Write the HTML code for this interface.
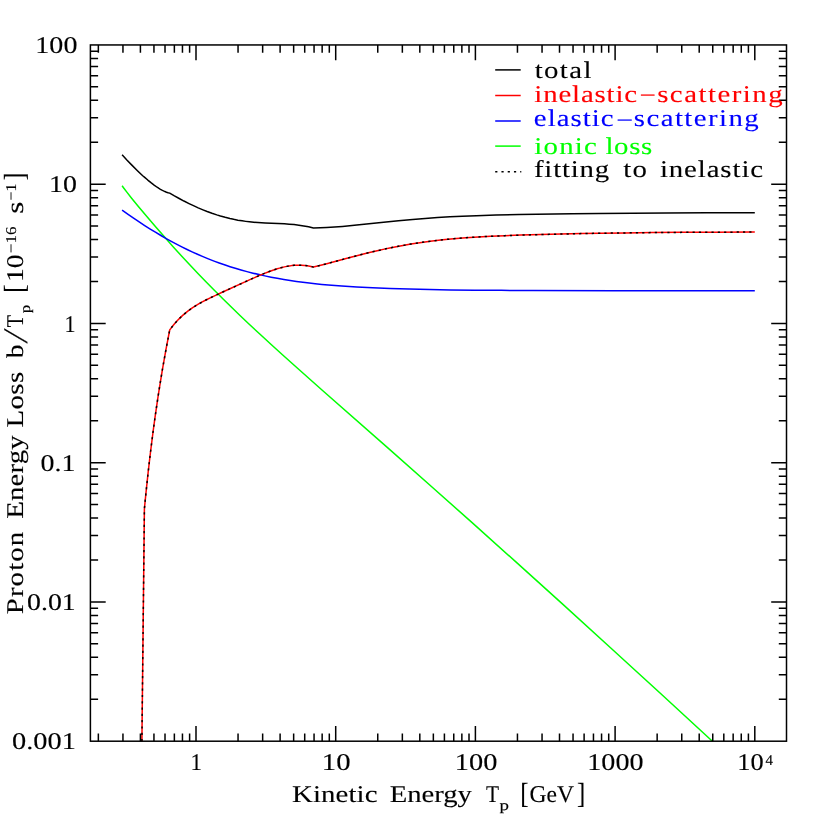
<!DOCTYPE html>
<html lang="en">
<head>
<meta charset="utf-8">
<title>Proton Energy Loss</title>
<style>
html,body{margin:0;padding:0;background:#fff;}
body{width:830px;height:830px;overflow:hidden;}
svg{display:block;}
text{font-family:"Liberation Serif",serif;white-space:pre;stroke-width:0.12px;text-rendering:geometricPrecision;}
</style>
</head>
<body>
<svg width="830" height="830" viewBox="0 0 830 830">
<rect x="0" y="0" width="830" height="830" fill="#fff"/>
<g fill="none" stroke-width="1.5" stroke-linejoin="round">
<path d="M122.10 185.77 L123.69 187.95 L126.86 192.14 L131.61 198.17 L137.96 205.95 L146.83 216.54 L155.81 227.04 L164.57 237.06 L173.32 246.89 L181.78 256.20 L189.02 264.02 L197.47 272.98 L205.93 281.75 L214.07 290.04 L222.83 298.79 L231.29 307.08 L239.74 315.22 L248.96 323.96 L260.06 334.32 L271.16 344.51 L283.84 356.01 L298.11 368.79 L322.26 390.20 L390.09 449.89 L429.73 484.94 L472.94 523.41 L517.26 563.17 L562.93 604.43 L610.50 647.70 L660.85 693.77 L712.38 741.20" stroke="#0f0"/>
<path d="M122.10 210.10 L128.44 214.60 L133.20 217.89 L139.54 222.16 L144.69 225.52 L150.24 229.04 L155.40 232.22 L160.93 235.51 L166.22 238.55 L171.26 241.34 L176.95 244.38 L181.78 246.86 L187.11 249.49 L192.64 252.10 L197.47 254.28 L202.97 256.65 L208.34 258.86 L214.07 261.09 L219.21 262.98 L225.17 265.06 L230.08 266.68 L236.12 268.55 L241.03 269.98 L246.98 271.62 L253.02 273.16 L259.06 274.59 L264.81 275.86 L271.14 277.16 L277.17 278.30 L283.84 279.46 L290.19 280.47 L296.49 281.39 L302.87 282.24 L309.21 283.02 L315.17 283.69 L321.90 284.38 L328.24 284.97 L341.76 286.06 L356.79 287.04 L372.64 287.85 L390.09 288.55 L409.11 289.12 L429.73 289.58 L450.34 289.90 L474.71 290.17 L501.31 290.37 L533.21 290.52 L613.67 290.68 L754.80 290.73" stroke="#00f"/>
<path d="M141.90 741.20 L144.40 508.80 L145.89 493.65 L148.14 472.43 L150.60 451.22 L153.30 430.01 L154.95 417.88 L156.25 408.79 L158.05 396.67 L159.47 387.58 L162.45 369.39 L164.57 357.27 L166.22 348.18 L169.70 330.00 L170.91 328.35 L173.32 325.25 L174.53 323.80 L176.95 321.06 L178.15 319.78 L180.57 317.36 L182.98 315.13 L185.40 313.06 L187.81 311.14 L190.23 309.36 L192.64 307.69 L196.27 305.37 L198.68 303.93 L202.30 301.90 L205.93 299.99 L210.76 297.60 L215.59 295.31 L221.63 292.53 L249.40 279.88 L257.85 276.13 L263.89 273.59 L268.72 271.70 L273.55 269.97 L277.17 268.80 L279.59 268.10 L282.00 267.45 L284.42 266.88 L286.83 266.38 L289.25 265.96 L291.66 265.62 L294.08 265.37 L296.49 265.22 L298.91 265.16 L301.32 265.21 L304.95 265.47 L307.36 265.79 L309.78 266.22 L313.40 267.09 L318.72 265.78 L325.81 263.95 L348.85 257.80 L357.72 255.48 L368.35 252.81 L377.22 250.72 L384.31 249.14 L389.63 248.01 L400.26 245.93 L410.90 244.06 L421.53 242.42 L432.17 241.00 L442.81 239.78 L453.44 238.74 L465.85 237.73 L478.26 236.92 L490.67 236.26 L504.85 235.65 L520.80 235.11 L540.30 234.57 L581.08 233.61 L600.58 233.24 L625.39 232.89 L651.98 232.59 L682.12 232.36 L715.80 232.19 L754.80 232.06" stroke="#f00"/>
<path d="M122.10 154.82 L126.86 159.98 L131.61 164.88 L137.96 171.16 L142.71 175.71 L144.40 177.07 L147.80 180.05 L150.97 182.67 L154.12 185.10 L157.14 187.24 L158.99 188.44 L160.44 189.31 L161.94 190.15 L163.50 190.93 L164.91 191.57 L166.50 192.20 L168.09 192.72 L169.70 193.13 L174.43 195.90 L179.19 198.53 L183.94 201.04 L189.02 203.58 L193.46 205.69 L198.21 207.82 L202.97 209.82 L207.13 211.47 L211.96 213.25 L216.79 214.87 L220.42 215.99 L225.17 217.33 L229.93 218.51 L233.70 219.35 L237.86 220.15 L242.15 220.86 L245.78 221.38 L249.40 221.82 L253.71 222.25 L257.85 222.58 L265.10 223.01 L284.42 223.86 L289.25 224.17 L294.08 224.60 L298.91 225.16 L303.74 225.90 L308.57 226.82 L313.40 227.95 L320.31 227.78 L326.66 227.50 L334.59 227.00 L342.51 226.38 L356.79 225.05 L386.08 222.00 L398.49 220.76 L412.67 219.46 L425.08 218.46 L437.49 217.59 L449.90 216.86 L462.31 216.25 L476.49 215.69 L495.99 215.11 L519.03 214.62 L572.21 213.80 L598.80 213.45 L632.48 213.14 L666.17 212.92 L706.94 212.75 L754.80 212.64" stroke="#000"/>
<path d="M141.90 741.20 L144.40 508.80 L145.89 493.65 L148.14 472.43 L150.60 451.22 L153.30 430.01 L154.95 417.88 L156.25 408.79 L158.05 396.67 L159.47 387.58 L162.45 369.39 L164.57 357.27 L166.22 348.18 L169.70 330.00 L170.91 328.35 L173.32 325.25 L174.53 323.80 L176.95 321.06 L178.15 319.78 L180.57 317.36 L182.98 315.13 L185.40 313.06 L187.81 311.14 L190.23 309.36 L192.64 307.69 L196.27 305.37 L198.68 303.93 L202.30 301.90 L205.93 299.99 L210.76 297.60 L215.59 295.31 L221.63 292.53 L249.40 279.88 L257.85 276.13 L263.89 273.59 L268.72 271.70 L273.55 269.97 L277.17 268.80 L279.59 268.10 L282.00 267.45 L284.42 266.88 L286.83 266.38 L289.25 265.96 L291.66 265.62 L294.08 265.37 L296.49 265.22 L298.91 265.16 L301.32 265.21 L304.95 265.47 L307.36 265.79 L309.78 266.22 L313.40 267.09 L318.72 265.78 L325.81 263.95 L348.85 257.80 L357.72 255.48 L368.35 252.81 L377.22 250.72 L384.31 249.14 L389.63 248.01 L400.26 245.93 L410.90 244.06 L421.53 242.42 L432.17 241.00 L442.81 239.78 L453.44 238.74 L465.85 237.73 L478.26 236.92 L490.67 236.26 L504.85 235.65 L520.80 235.11 L540.30 234.57 L581.08 233.61 L600.58 233.24 L625.39 232.89 L651.98 232.59 L682.12 232.36 L715.80 232.19 L754.80 232.06" stroke="#000" stroke-dasharray="2.2 4.1"/>
<path d="M495.2 69.9 H520.7" stroke="#000"/><path d="M495.2 95.5 H520.7" stroke="#f00"/><path d="M495.2 121.0 H520.7" stroke="#00f"/><path d="M495.2 146.1 H520.7" stroke="#0f0"/><path d="M495.2 171.7 H521.3" stroke="#000" stroke-dasharray="2.2 4.05"/>
</g>
<g fill="none" stroke="#000" stroke-width="1.5">
<path d="M98.35 741.2 v-7.7M98.35 44.95 v7.7M122.95 741.2 v-7.7M122.95 44.95 v7.7M140.41 741.2 v-7.7M140.41 44.95 v7.7M153.95 741.2 v-7.7M153.95 44.95 v7.7M165.01 741.2 v-7.7M165.01 44.95 v7.7M174.36 741.2 v-7.7M174.36 44.95 v7.7M182.46 741.2 v-7.7M182.46 44.95 v7.7M189.61 741.2 v-7.7M189.61 44.95 v7.7M196.00 741.2 v-15.3M196.00 44.95 v15.3M238.05 741.2 v-7.7M238.05 44.95 v7.7M262.65 741.2 v-7.7M262.65 44.95 v7.7M280.11 741.2 v-7.7M280.11 44.95 v7.7M293.65 741.2 v-7.7M293.65 44.95 v7.7M304.71 741.2 v-7.7M304.71 44.95 v7.7M314.06 741.2 v-7.7M314.06 44.95 v7.7M322.16 741.2 v-7.7M322.16 44.95 v7.7M329.31 741.2 v-7.7M329.31 44.95 v7.7M335.70 741.2 v-15.3M335.70 44.95 v15.3M377.75 741.2 v-7.7M377.75 44.95 v7.7M402.35 741.2 v-7.7M402.35 44.95 v7.7M419.81 741.2 v-7.7M419.81 44.95 v7.7M433.35 741.2 v-7.7M433.35 44.95 v7.7M444.41 741.2 v-7.7M444.41 44.95 v7.7M453.76 741.2 v-7.7M453.76 44.95 v7.7M461.86 741.2 v-7.7M461.86 44.95 v7.7M469.01 741.2 v-7.7M469.01 44.95 v7.7M475.40 741.2 v-15.3M475.40 44.95 v15.3M517.45 741.2 v-7.7M517.45 44.95 v7.7M542.05 741.2 v-7.7M542.05 44.95 v7.7M559.51 741.2 v-7.7M559.51 44.95 v7.7M573.05 741.2 v-7.7M573.05 44.95 v7.7M584.11 741.2 v-7.7M584.11 44.95 v7.7M593.46 741.2 v-7.7M593.46 44.95 v7.7M601.56 741.2 v-7.7M601.56 44.95 v7.7M608.71 741.2 v-7.7M608.71 44.95 v7.7M615.10 741.2 v-15.3M615.10 44.95 v15.3M657.15 741.2 v-7.7M657.15 44.95 v7.7M681.75 741.2 v-7.7M681.75 44.95 v7.7M699.21 741.2 v-7.7M699.21 44.95 v7.7M712.75 741.2 v-7.7M712.75 44.95 v7.7M723.81 741.2 v-7.7M723.81 44.95 v7.7M733.16 741.2 v-7.7M733.16 44.95 v7.7M741.26 741.2 v-7.7M741.26 44.95 v7.7M748.41 741.2 v-7.7M748.41 44.95 v7.7M754.80 741.2 v-15.3M754.80 44.95 v15.3M90.4 699.28 h7.7M786.5 699.28 h-7.7M90.4 674.76 h7.7M786.5 674.76 h-7.7M90.4 657.36 h7.7M786.5 657.36 h-7.7M90.4 643.87 h7.7M786.5 643.87 h-7.7M90.4 632.84 h7.7M786.5 632.84 h-7.7M90.4 623.52 h7.7M786.5 623.52 h-7.7M90.4 615.44 h7.7M786.5 615.44 h-7.7M90.4 608.32 h7.7M786.5 608.32 h-7.7M90.4 601.95 h15.3M786.5 601.95 h-15.3M90.4 560.03 h7.7M786.5 560.03 h-7.7M90.4 535.51 h7.7M786.5 535.51 h-7.7M90.4 518.11 h7.7M786.5 518.11 h-7.7M90.4 504.62 h7.7M786.5 504.62 h-7.7M90.4 493.59 h7.7M786.5 493.59 h-7.7M90.4 484.27 h7.7M786.5 484.27 h-7.7M90.4 476.19 h7.7M786.5 476.19 h-7.7M90.4 469.07 h7.7M786.5 469.07 h-7.7M90.4 462.70 h15.3M786.5 462.70 h-15.3M90.4 420.78 h7.7M786.5 420.78 h-7.7M90.4 396.26 h7.7M786.5 396.26 h-7.7M90.4 378.86 h7.7M786.5 378.86 h-7.7M90.4 365.37 h7.7M786.5 365.37 h-7.7M90.4 354.34 h7.7M786.5 354.34 h-7.7M90.4 345.02 h7.7M786.5 345.02 h-7.7M90.4 336.94 h7.7M786.5 336.94 h-7.7M90.4 329.82 h7.7M786.5 329.82 h-7.7M90.4 323.45 h15.3M786.5 323.45 h-15.3M90.4 281.53 h7.7M786.5 281.53 h-7.7M90.4 257.01 h7.7M786.5 257.01 h-7.7M90.4 239.61 h7.7M786.5 239.61 h-7.7M90.4 226.12 h7.7M786.5 226.12 h-7.7M90.4 215.09 h7.7M786.5 215.09 h-7.7M90.4 205.77 h7.7M786.5 205.77 h-7.7M90.4 197.69 h7.7M786.5 197.69 h-7.7M90.4 190.57 h7.7M786.5 190.57 h-7.7M90.4 184.20 h15.3M786.5 184.20 h-15.3M90.4 142.28 h7.7M786.5 142.28 h-7.7M90.4 117.76 h7.7M786.5 117.76 h-7.7M90.4 100.36 h7.7M786.5 100.36 h-7.7M90.4 86.87 h7.7M786.5 86.87 h-7.7M90.4 75.84 h7.7M786.5 75.84 h-7.7M90.4 66.52 h7.7M786.5 66.52 h-7.7M90.4 58.44 h7.7M786.5 58.44 h-7.7M90.4 51.32 h7.7M786.5 51.32 h-7.7"/>
<rect x="90.4" y="44.95" width="696.10" height="696.25"/>
</g>
<g opacity="0.999">
<text transform="translate(35.35 53.20) scale(1.1681 1)" font-size="24" fill="#000" stroke="#000">100</text>
<text transform="translate(49.00 192.35) scale(1.1609 1)" font-size="24" fill="#000" stroke="#000">10</text>
<text transform="translate(64.50 331.55) scale(0.9231 1)" font-size="24" fill="#000" stroke="#000">1</text>
<text transform="translate(40.62 470.75) scale(1.1648 1)" font-size="24" fill="#000" stroke="#000">0.1</text>
<text transform="translate(27.07 609.85) scale(1.1582 1)" font-size="24" fill="#000" stroke="#000">0.01</text>
<text transform="translate(12.05 749.05) scale(1.1827 1)" font-size="24" fill="#000" stroke="#000">0.001</text>
<text transform="translate(190.50 770.30) scale(0.9544 1)" font-size="24" fill="#000" stroke="#000">1</text>
<text transform="translate(321.85 770.30) scale(1.1970 1)" font-size="24" fill="#000" stroke="#000">10</text>
<text transform="translate(454.83 770.30) scale(1.1831 1)" font-size="24" fill="#000" stroke="#000">100</text>
<text transform="translate(587.30 770.30) scale(1.1716 1)" font-size="24" fill="#000" stroke="#000">1000</text>
<text transform="translate(737.37 770.30) scale(1.1009 1)" font-size="24" fill="#000" stroke="#000">10</text>
<text transform="translate(765.62 764.90) scale(0.9953 1)" font-size="15" fill="#000" stroke="#000" stroke-width="0.4">4</text>
<text transform="translate(534.68 78.40) scale(1.2000 1)" font-size="24" fill="#000" stroke="#000" textLength="47.30" lengthAdjust="spacing">total</text>
<text transform="translate(534.32 101.60) scale(1.2000 1)" font-size="24" fill="#f00" stroke="#f00" textLength="85.63" lengthAdjust="spacing">inelastic</text>
<text transform="translate(639.57 102.80) scale(1.2109 1)" font-size="24" fill="#f00" stroke="#f00" stroke-width="0.35">−</text>
<text transform="translate(657.17 101.60) scale(1.2000 1)" font-size="24" fill="#f00" stroke="#f00" textLength="104.56" lengthAdjust="spacing">scattering</text>
<text transform="translate(533.82 125.80) scale(1.2000 1)" font-size="24" fill="#00f" stroke="#00f" textLength="66.49" lengthAdjust="spacing">elastic</text>
<text transform="translate(616.15 127.50) scale(1.2460 1)" font-size="24" fill="#00f" stroke="#00f" stroke-width="0.35">−</text>
<text transform="translate(633.85 125.80) scale(1.2000 1)" font-size="24" fill="#00f" stroke="#00f" textLength="104.01" lengthAdjust="spacing">scattering</text>
<text transform="translate(534.23 154.10) scale(1.2000 1)" font-size="24" fill="#0f0" stroke="#0f0" textLength="52.17" lengthAdjust="spacing">ionic</text>
<text transform="translate(605.43 154.10) scale(1.2000 1)" font-size="24" fill="#0f0" stroke="#0f0" textLength="39.02" lengthAdjust="spacing">loss</text>
<text transform="translate(534.00 177.20) scale(1.2000 1)" font-size="24" fill="#000" stroke="#000" textLength="62.60" lengthAdjust="spacing">fitting</text>
<text transform="translate(623.35 177.20) scale(1.2000 1)" font-size="24" fill="#000" stroke="#000" textLength="19.72" lengthAdjust="spacing">to</text>
<text transform="translate(659.92 177.20) scale(1.2000 1)" font-size="24" fill="#000" stroke="#000" textLength="85.97" lengthAdjust="spacing">inelastic</text>
<text transform="translate(291.95 802.15) scale(1.2000 1)" font-size="24" fill="#000" stroke="#000" textLength="71.27" lengthAdjust="spacing">Kinetic</text>
<text transform="translate(389.65 802.15) scale(1.1944 1)" font-size="24" fill="#000" stroke="#000">Energy</text>
<text transform="translate(486.00 802.15) scale(0.8892 1)" font-size="24" fill="#000" stroke="#000">T</text>
<text transform="translate(499.50 809.50) scale(1.3068 1)" font-size="14.5" fill="#000" stroke="#000" stroke-width="0.4">p</text>
<text transform="translate(520.30 803.30) scale(0.8565 1)" font-size="29" fill="#000" stroke="#000" stroke-width="0.45">[</text>
<text transform="translate(529.60 802.15) scale(0.9806 1)" font-size="24" fill="#000" stroke="#000">GeV</text>
<text transform="translate(576.95 803.30) scale(0.8550 1)" font-size="29" fill="#000" stroke="#000" stroke-width="0.45">]</text>
<text transform="translate(22.80 614.28) rotate(-90) scale(1.2000 1)" font-size="24" fill="#000" stroke="#000" textLength="68.76" lengthAdjust="spacing">Proton</text>
<text transform="translate(22.80 518.87) rotate(-90) scale(1.2000 1)" font-size="24" fill="#000" stroke="#000" textLength="69.60" lengthAdjust="spacing">Energy</text>
<text transform="translate(22.80 427.60) rotate(-90) scale(1.2000 1)" font-size="24" fill="#000" stroke="#000" textLength="46.50" lengthAdjust="spacing">Loss</text>
<text transform="translate(22.80 357.88) rotate(-90) scale(1.1246 1)" font-size="24" fill="#000" stroke="#000">b</text>
<text transform="translate(27.20 343.40) rotate(-90) skewX(-14) scale(1.0000 1)" font-size="34.5" fill="#000" stroke="#000" stroke-width="0.01">/</text>
<text transform="translate(22.80 327.33) rotate(-90) scale(0.8431 1)" font-size="24" fill="#000" stroke="#000">T</text>
<text transform="translate(30.10 313.30) rotate(-90) scale(1.1736 1)" font-size="14.5" fill="#000" stroke="#000" stroke-width="0.4">p</text>
<text transform="translate(24.00 293.12) rotate(-90) scale(0.9074 1)" font-size="29" fill="#000" stroke="#000" stroke-width="0.45">[</text>
<text transform="translate(22.80 282.00) rotate(-90) scale(1.1464 1)" font-size="24" fill="#000" stroke="#000">10</text>
<text transform="translate(15.80 253.00) rotate(-90) scale(1.1279 1)" font-size="15" fill="#000" stroke="#000" stroke-width="0.4">−16</text>
<text transform="translate(22.80 213.87) rotate(-90) scale(1.2908 1)" font-size="24" fill="#000" stroke="#000">s</text>
<text transform="translate(15.80 200.43) rotate(-90) scale(1.0678 1)" font-size="15" fill="#000" stroke="#000" stroke-width="0.4">−1</text>
<text transform="translate(24.00 180.37) rotate(-90) scale(0.7825 1)" font-size="29" fill="#000" stroke="#000" stroke-width="0.45">]</text>
</g>
</svg>
</body>
</html>
